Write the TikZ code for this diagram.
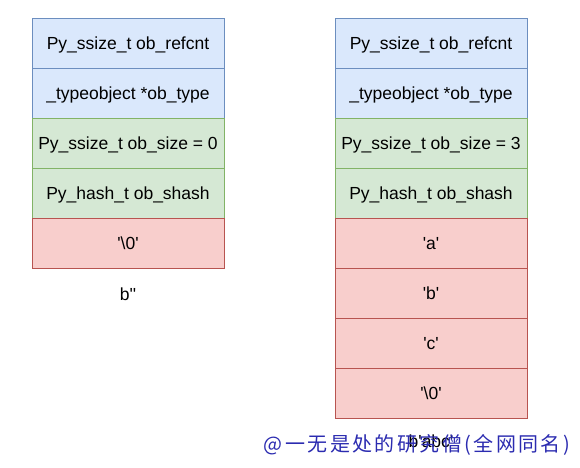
\documentclass[tikz,border=0pt]{standalone}
\usepackage{fontspec}
\setmainfont{Liberation Sans}
\newfontfamily\cjk[LetterSpace=12]{Noto Sans CJK SC}
\newcommand{\sq}{\textquotesingle}
\definecolor{bfill}{HTML}{DAE8FC}\definecolor{bdraw}{HTML}{6C8EBF}
\definecolor{gfill}{HTML}{D5E8D4}\definecolor{gdraw}{HTML}{82B366}
\definecolor{rfill}{HTML}{F8CECC}\definecolor{rdraw}{HTML}{B85450}
\definecolor{wmark}{HTML}{2B2BB0}
\begin{document}
\begin{tikzpicture}[x=1pt,y=-1pt,
  cell/.style={minimum width=192pt,minimum height=50pt,inner sep=0pt,outer sep=0pt,
    text height=15pt,text depth=3pt,
    font=\fontsize{17.5}{20}\selectfont,anchor=north west,line width=0.8pt},
  bluec/.style={cell,fill=bfill,draw=bdraw},
  greenc/.style={cell,fill=gfill,draw=gdraw},
  redc/.style={cell,fill=rfill,draw=rdraw},
  lbl/.style={font=\fontsize{17.5}{20}\selectfont,inner sep=0pt}]
\useasboundingbox (0,0) rectangle (580,467);
% left
\node[bluec] (l1) at (32,18.5) {Py\_ssize\_t ob\_refcnt};
\node[bluec] (l2) at (32,68.5) {\_typeobject *ob\_type};
\node[greenc] (l3) at (32,118.5) {Py\_ssize\_t ob\_size = 0};
\node[greenc] (l4) at (32,168.5) {Py\_hash\_t ob\_shash};
\node[redc] (l5) at (32,218.5) {\sq\textbackslash 0\sq};
\node[lbl] (lb) at (128,294) {b\sq\sq};
% right
\node[bluec] (r1) at (335,18.5) {Py\_ssize\_t ob\_refcnt};
\node[bluec] (r2) at (335,68.5) {\_typeobject *ob\_type};
\node[greenc] (r3) at (335,118.5) {Py\_ssize\_t ob\_size = 3};
\node[greenc] (r4) at (335,168.5) {Py\_hash\_t ob\_shash};
\node[redc] (r5) at (335,218.5) {\sq a\sq};
\node[redc] (r6) at (335,268.5) {\sq b\sq};
\node[redc] (r7) at (335,318.5) {\sq c\sq};
\node[redc] (r8) at (335,368.5) {\sq\textbackslash 0\sq};
\node[lbl] (rb) at (431,441) {b\sq abc\sq};
\node[font=\cjk\fontsize{20}{22}\selectfont,text=wmark,inner sep=0pt] (wm) at (417,445) {@一无是处的研究僧(全网同名)};
\end{tikzpicture}
\end{document}
